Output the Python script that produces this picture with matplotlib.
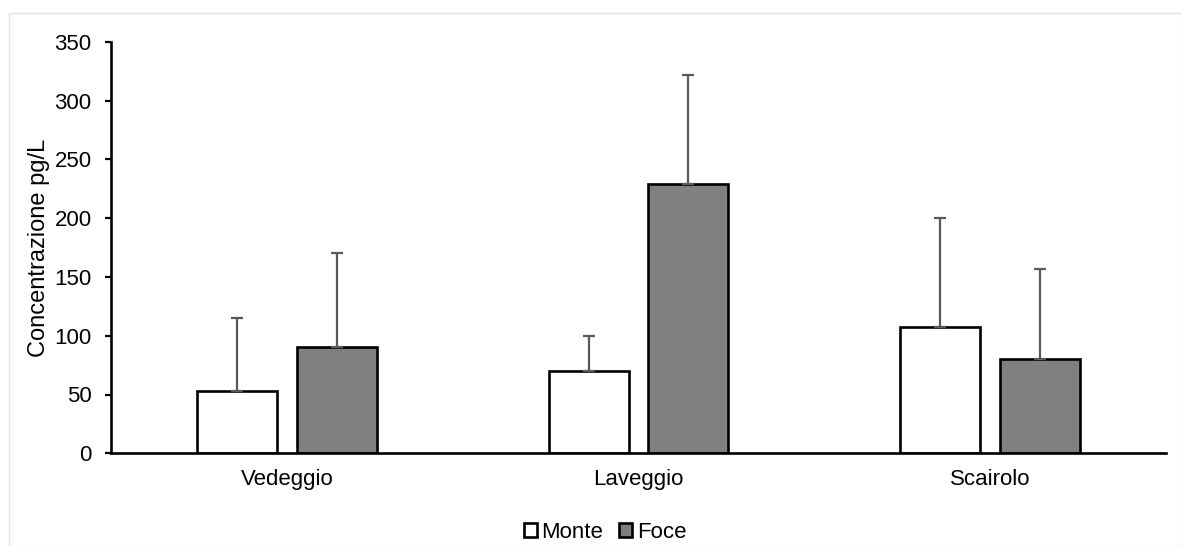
import matplotlib
matplotlib.use("Agg")
import matplotlib.pyplot as plt
import numpy as np
from matplotlib.patches import Rectangle

categories = ["Vedeggio", "Laveggio", "Scairolo"]
monte = [53, 70, 107]
foce = [90, 229, 80]
monte_err = [62, 30, 93]
foce_err = [80, 93, 77]
series_labels = ["Monte", "Foce"]
yticks = [0, 50, 100, 150, 200, 250, 300, 350]

plt.rcParams['font.family'] = ['Liberation Sans', 'DejaVu Sans']

W, H = 1182, 546
fig = plt.figure(figsize=(W / 100, H / 100), dpi=100)
fig.patches.append(Rectangle((9.5 / W, 0), 1 - 9.5 / W, 1 - 13 / H, transform=fig.transFigure,
                             fill=False, edgecolor='#e3e3e3', linewidth=1))
ax = fig.add_axes([111 / W, 1 - 453.3 / H, (1166 - 111) / W, (453.3 - 41.7) / H])

x = np.arange(len(categories))
w = 0.2275
off = 0.142
ekw = dict(ecolor='#595959', elinewidth=1.6, capsize=4, capthick=1.6)
ax.bar(x - off, monte, w, color='white', edgecolor='black', linewidth=1.9,
       yerr=[np.zeros(3), monte_err], error_kw=ekw, label=series_labels[0], zorder=2)
ax.bar(x + off, foce, w, color='#808080', edgecolor='black', linewidth=1.9,
       yerr=[np.zeros(3), foce_err], error_kw=ekw, label=series_labels[1], zorder=2)

ax.set_xlim(-0.5, 2.5)
ax.set_ylim(0, 350)
ax.set_yticks(yticks)
ax.set_xticks(x)
ax.set_xticklabels(categories, fontsize=16)
ax.tick_params(axis='y', labelsize=16, length=4, width=1.6, pad=10)
ax.tick_params(axis='x', length=0, pad=11)
for s in ['top', 'right']:
    ax.spines[s].set_visible(False)
for s in ['left', 'bottom']:
    ax.spines[s].set_linewidth(1.9)
ax.set_ylabel("Concentrazione pg/L", fontsize=17)
ax.yaxis.set_label_coords(-(111 - 50) / (1166 - 111), 0.5)

fig.legend(loc='center', bbox_to_anchor=(605 / W, 1 - 532 / H), ncol=2, frameon=False,
           fontsize=16, handlelength=0.6, handleheight=0.6, handletextpad=0.2,
           columnspacing=0.7, borderpad=0)

fig.savefig("out.png", dpi=100, facecolor='white')
